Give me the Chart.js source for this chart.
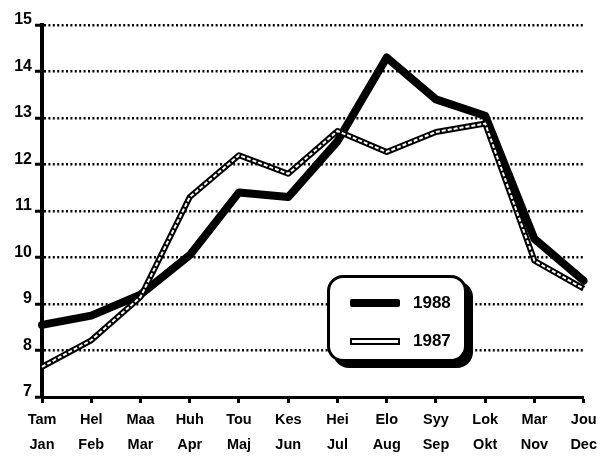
<!DOCTYPE html>
<html lang="fi">
<head>
    <meta charset="UTF-8">
    <title>1987 / 1988</title>
    <style>
        body {
            margin: 0;
            padding: 0;
            background-color: #fff;
        }

        .wrap {
            position: relative;
            width: 601px;
            height: 457px;
        }

        .legend {
            position: absolute;
            left: 327px;
            top: 275px;
            width: 134px;
            height: 81px;
            border: 3px solid #000;
            border-radius: 16px;
            background-color: #fff;
            box-shadow: 6px 6px 0 #000;
            font-family: 'Liberation Sans', Arial, sans-serif;
            font-weight: bold;
            font-size: 17px;
            color: #000;
        }

        .legend .row {
            position: absolute;
            left: 20px;
            height: 20px;
            display: flex;
            align-items: center;
        }

        .legend .swatch {
            width: 50px;
            margin-right: 13px;
            box-sizing: border-box;
        }

        .legend .s1988 {
            height: 8px;
            background-color: #000;
            border-radius: 2px;
        }

        .legend .s1987 {
            height: 7px;
            background-color: #fff;
            border: 2px solid #000;
        }
    </style>
    <script src="https://cdn.jsdelivr.net/npm/chart.js"></script>
</head>
<body>
    <div class="wrap">
        <canvas id="chart" width="601" height="457"></canvas>
        <div class="legend">
            <div class="row" style="top: 15px;"><div class="swatch s1988"></div><span>1988</span></div>
            <div class="row" style="top: 53px;"><div class="swatch s1987"></div><span>1987</span></div>
        </div>
    </div>

    <script>
        // kuukaudet suomeksi ja ruotsiksi
        const monthsFi = ['Tam', 'Hel', 'Maa', 'Huh', 'Tou', 'Kes', 'Hei', 'Elo', 'Syy', 'Lok', 'Mar', 'Jou'];
        const monthsSv = ['Jan', 'Feb', 'Mar', 'Apr', 'Maj', 'Jun', 'Jul', 'Aug', 'Sep', 'Okt', 'Nov', 'Dec'];

        const values1988 = [8.55, 8.75, 9.2, 10.05, 11.4, 11.3, 12.5, 14.3, 13.4, 13.05, 10.4, 9.5];
        const values1987 = [7.65, 8.22, 9.15, 11.3, 12.2, 11.8, 12.72, 12.27, 12.7, 12.88, 9.93, 9.33];

        const yMin = 7;
        const yMax = 15;

        const labels = monthsFi.map((m, i) => [m, monthsSv[i]]);
        const font = { family: "'Liberation Sans', Arial, sans-serif", weight: 'bold' };

        new Chart(document.getElementById('chart'), {
            type: 'line',
            data: {
                labels: labels,
                datasets: [
                    {
                        // valkoinen katkoviiva 1987 viivan keskellä
                        label: '1987 center',
                        data: values1987,
                        borderColor: '#fff',
                        borderWidth: 2,
                        borderDash: [4, 2],
                        pointRadius: 0,
                        tension: 0,
                        order: 0
                    },
                    {
                        label: '1987',
                        data: values1987,
                        borderColor: '#000',
                        borderWidth: 6,
                        pointRadius: 0,
                        tension: 0,
                        borderJoinStyle: 'round',
                        order: 1
                    },
                    {
                        label: '1988',
                        data: values1988,
                        borderColor: '#000',
                        borderWidth: 8,
                        pointRadius: 0,
                        tension: 0,
                        borderJoinStyle: 'round',
                        borderCapStyle: 'round',
                        order: 2
                    }
                ]
            },
            options: {
                responsive: false,
                animation: false,
                layout: {
                    padding: { top: 25, right: 16, left: 0, bottom: 0 }
                },
                plugins: {
                    legend: { display: false },
                    tooltip: { enabled: false }
                },
                scales: {
                    x: {
                        offset: false,
                        grid: {
                            drawOnChartArea: false,
                            tickLength: 6,
                            tickWidth: 3,
                            tickColor: '#000'
                        },
                        border: { display: true, color: '#000', width: 3 },
                        ticks: {
                            color: '#000',
                            padding: 4,
                            maxRotation: 0,
                            autoSkip: false,
                            font: Object.assign({ size: 14.5, lineHeight: 1.75 }, font)
                        },
                        afterFit: scale => { scale.height = 60; }
                    },
                    y: {
                        min: yMin,
                        max: yMax,
                        grid: {
                            color: '#000',
                            lineWidth: 2.5,
                            tickLength: 7,
                            tickWidth: 3,
                            tickColor: '#000',
                            tickBorderDash: []
                        },
                        border: { display: true, color: '#000', width: 4, dash: [2, 2.4] },
                        ticks: {
                            stepSize: 1,
                            color: '#000',
                            padding: 3,
                            labelOffset: -5,
                            font: Object.assign({ size: 16 }, font)
                        },
                        afterFit: scale => { scale.width = 42; }
                    }
                }
            }
        });
    </script>
</body>
</html>
